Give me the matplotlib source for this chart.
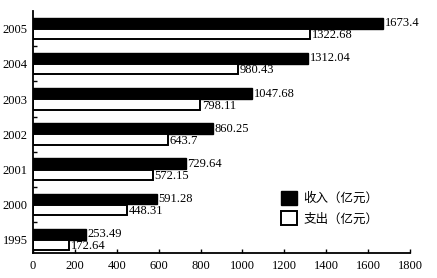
import matplotlib
matplotlib.use("Agg")
import matplotlib.pyplot as plt
import numpy as np

years = ["1995", "2000", "2001", "2002", "2003", "2004", "2005"]
income = [253.49, 591.28, 729.64, 860.25, 1047.68, 1312.04, 1673.4]
expense = [172.64, 448.31, 572.15, 643.7, 798.11, 980.43, 1322.68]
income_labels = ["253.49", "591.28", "729.64", "860.25", "1047.68", "1312.04", "1673.4"]
expense_labels = ["172.64", "448.31", "572.15", "643.7", "798.11", "980.43", "1322.68"]

serif = "Liberation Serif"
cjk = ["Noto Sans CJK SC", "DejaVu Sans"]

fig = plt.figure(figsize=(4.37, 2.78), dpi=100)
ax = fig.add_axes([0.0755, 0.09, 0.8627, 0.87])

y = np.arange(len(years))
h = 0.31
ax.barh(y + h / 2, income, height=h, color="black", edgecolor="black", linewidth=1.0,
        label="收入（亿元）")
ax.barh(y - h / 2, expense, height=h * 0.95, color="white", edgecolor="black", linewidth=1.4,
        label="支出（亿元）")

for yi, v, s in zip(y, income, income_labels):
    ax.text(v + 8, yi + h / 2, s, va="center", ha="left", fontsize=9, family=serif)
for yi, v, s in zip(y, expense, expense_labels):
    ax.text(v + 8, yi - h / 2 - 0.03, s, va="center", ha="left", fontsize=9, family=serif)

ax.set_xlim(0, 1800)
ax.set_ylim(-0.38, 6.5)
ax.set_xticks(np.arange(0, 1801, 200))
ax.set_xticklabels([str(t) for t in range(0, 1801, 200)], family=serif, fontsize=9)
ax.set_yticks(y)
ax.set_yticklabels(years, family=serif, fontsize=9)
ax.set_yticks(y[:-1] + 0.5, minor=True)
ax.tick_params(axis="y", which="major", length=0, pad=4)
ax.tick_params(axis="y", which="minor", length=3, direction="in", width=1)
ax.tick_params(axis="x", length=3, direction="in", width=1, pad=5)

for side in ["top", "right"]:
    ax.spines[side].set_visible(False)
for side in ["left", "bottom"]:
    ax.spines[side].set_linewidth(1.3)

leg = ax.legend(loc="center left", bbox_to_anchor=(0.645, 0.185), frameon=False,
                prop={"family": cjk, "size": 9}, handlelength=1.3, handleheight=1.3,
                labelspacing=0.5, handletextpad=0.5, borderaxespad=0)

fig.savefig("out.png", dpi=100)
